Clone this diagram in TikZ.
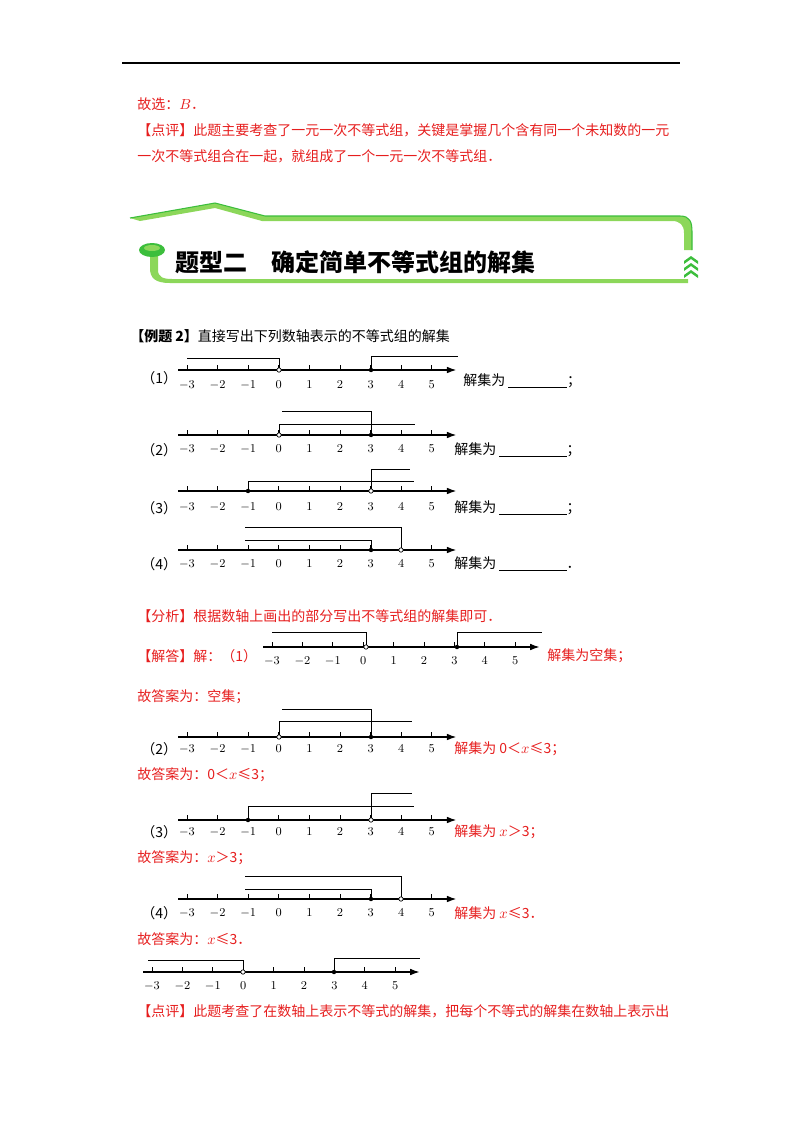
\documentclass[tikz,border=0pt]{standalone}
\usepackage{fontspec}
\newfontfamily\cjk{Noto Sans CJK SC}
\usetikzlibrary{arrows.meta}
\definecolor{rd}{RGB}{230,30,30}
\definecolor{gr}{RGB}{60,190,60}
\definecolor{lg}{RGB}{140,215,90}
\newcommand\nline[4]{%
 \draw[line width=0.9pt,-{Latex[length=7pt,width=5pt]}] ({#1-9},#2) -- ({#1+8.8*#3},#2);
 \foreach \k in {0,...,8} \draw[line width=0.6pt] ({#1+\k*#3},#2) -- ({#1+\k*#3},{#2-5});
 \foreach \k/\l in {0/$-3$,1/$-2$,2/$-1$,3/$0$,4/$1$,5/$2$,6/$3$,7/$4$,8/$5$}
   \node[font=\fontsize{9.5}{11}\selectfont] at ({#1+\k*#3},{#2+#4}) {\l};}
\newcommand\cdt[2]{\fill (#1,#2) circle (2.2);}
\newcommand\odt[2]{\draw[fill=white,line width=0.5pt] (#1,#2) circle (2.2);}
\begin{document}
\begin{tikzpicture}[x=0.75pt,y=-0.75pt,font=\cjk,
  tx/.style={anchor=west,inner sep=0pt,font=\cjk\fontsize{10.5}{12}\selectfont},
  br/.style={line width=0.6pt}]
\useasboundingbox (0,0) rectangle (800,1132);
\draw[line width=0.8pt] (122,63) -- (680,63);
\node[tx,text=rd] at (137,104) {故选：$B$．};
\node[tx,text=rd] at (137,130) {【点评】此题主要考查了一元一次不等式组，关键是掌握几个含有同一个未知数的一元};
\node[tx,text=rd] at (137,156) {一次不等式组合在一起，就组成了一个一元一次不等式组．};
% banner
\fill[lg] (130,218) -- (215,203) -- (265,216) -- (680,216) .. controls (690,216) and (692,222) .. (692,232) -- (692,250) -- (684,250) -- (684,233) .. controls (684,225) and (680,221) .. (672,221) -- (262,221) -- (215,208) -- (140,221) -- cycle;
\draw[gr,line width=0.8pt] (130,218) -- (215,203) -- (265,216) -- (680,216) .. controls (690,216) and (692,222) .. (692,232) -- (692,250);
\fill[lg] (150,255) -- (158,255) -- (158,270) .. controls (158,277) and (163,279) .. (172,279) -- (688,279) -- (688,283) -- (170,283) .. controls (155,283) and (150,278) .. (150,268) -- cycle;
\fill[gr] (152,250) ellipse (13 and 7);
\fill[lg] (152,248) ellipse (8 and 3);
\foreach \yy in {256,263,270}
 \fill[gr] (684,\yy+5) -- (691,\yy) -- (698,\yy+5) -- (698,\yy+8) -- (691,\yy+3) -- (684,\yy+8) -- cycle;
\node[anchor=west,inner sep=0pt,font=\cjk\bfseries\fontsize{18}{20}\selectfont] at (175,262) {题型二\quad 确定简单不等式组的解集};
% problem
\node[tx] at (130,336) {\textbf{【例题 2】}直接写出下列数轴表示的不等式组的解集};
\node[tx] at (141,378) {（1）};
\nline{187}{370}{30.6}{15}
\draw[br] (187,358) -- (279,358) -- (279,370);
\draw[br] (371,370) -- (371,356) -- (458,356);
\odt{279}{370} \cdt{371}{370}
\node[tx] at (463,381) {解集为 \underline{\hspace{4.2em}}；};
\node[tx] at (141,450) {（2）};
\nline{187}{435}{30.6}{14}
\draw[br] (279,435) -- (279,424) -- (415,424);
\draw[br] (282,411) -- (371,411) -- (371,435);
\odt{279}{435} \cdt{371}{435}
\node[tx] at (454,450) {解集为 \underline{\hspace{4.8em}}；};
\node[tx] at (141,508) {（3）};
\nline{187}{491}{30.6}{16}
\draw[br] (248,491) -- (248,481) -- (414,481);
\draw[br] (371,491) -- (371,469) -- (410,469);
\cdt{248}{491} \odt{371}{491}
\node[tx] at (454,508) {解集为 \underline{\hspace{4.8em}}；};
\node[tx] at (141,564) {（4）};
\nline{187}{550}{30.6}{14}
\draw[br] (245,540) -- (371,540) -- (371,550);
\draw[br] (245,527) -- (401,527) -- (401,550);
\cdt{371}{550} \odt{401}{550}
\node[tx] at (454,564) {解集为 \underline{\hspace{4.8em}}．};
% answer
\node[tx,text=rd] at (137,616) {【分析】根据数轴上画出的部分写出不等式组的解集即可．};
\node[tx,text=rd] at (137,656) {【解答】解：（1）};
\nline{272}{647}{30.4}{14}
\draw[br] (272,632) -- (366,632) -- (366,647);
\draw[br] (457,647) -- (457,632) -- (542,632);
\odt{366}{647} \cdt{457}{647}
\node[tx,text=rd] at (547,656) {解集为空集；};
\node[tx,text=rd] at (137,697) {故答案为：空集；};
\node[tx] at (141,749) {（2）};
\nline{187}{737}{30.6}{12}
\draw[br] (279,737) -- (279,721) -- (412,721);
\draw[br] (282,709) -- (371,709) -- (371,737);
\odt{279}{737} \cdt{371}{737}
\node[tx,text=rd] at (454,749) {解集为 0＜$x$≤3；};
\node[tx,text=rd] at (137,775) {故答案为：0＜$x$≤3；};
\node[tx] at (141,832) {（3）};
\nline{187}{820}{30.6}{12}
\draw[br] (248,820) -- (248,806) -- (414,806);
\draw[br] (371,820) -- (371,793) -- (412,793);
\cdt{248}{820} \odt{371}{820}
\node[tx,text=rd] at (454,832) {解集为 $x$＞3；};
\node[tx,text=rd] at (137,858) {故答案为：$x$＞3；};
\node[tx] at (141,913) {（4）};
\nline{187}{899}{30.6}{14}
\draw[br] (245,889) -- (371,889) -- (371,899);
\draw[br] (245,876) -- (401,876) -- (401,899);
\cdt{371}{899} \odt{401}{899}
\node[tx,text=rd] at (454,913) {解集为 $x$≤3．};
\node[tx,text=rd] at (137,939) {故答案为：$x$≤3．};
\nline{152}{972}{30.4}{14}
\draw[br] (148,960) -- (243,960) -- (243,972);
\draw[br] (334,972) -- (334,958) -- (420,958);
\odt{243}{972} \cdt{334}{972}
\node[tx,text=rd] at (137,1011) {【点评】此题考查了在数轴上表示不等式的解集，把每个不等式的解集在数轴上表示出};
\end{tikzpicture}
\end{document}
